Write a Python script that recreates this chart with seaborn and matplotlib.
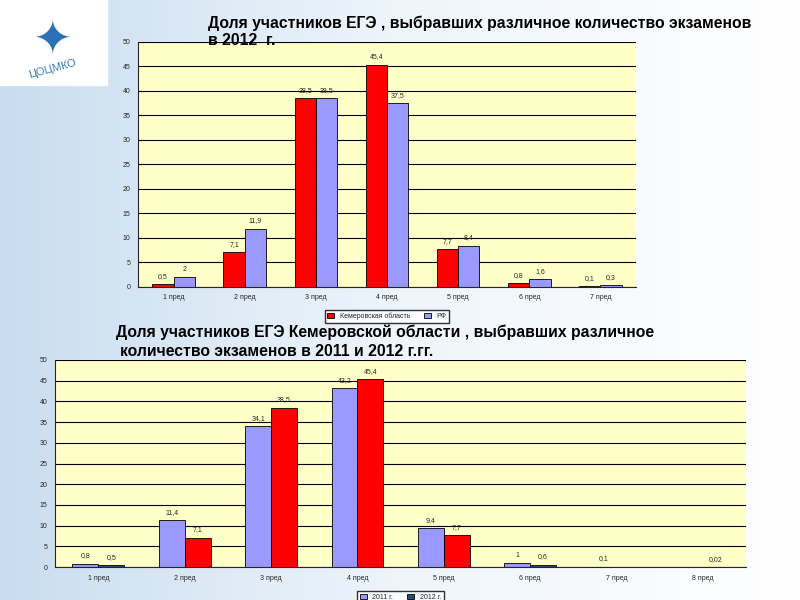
import numpy as np
import pandas as pd
import matplotlib
matplotlib.use("Agg")
import matplotlib.pyplot as plt
import seaborn as sns
from matplotlib.colors import LinearSegmentedColormap

sns.set_style("white")
plt.rcParams['font.family'] = ['Liberation Sans', 'DejaVu Sans']

cats1 = ["1 пред", "2 пред", "3 пред", "4 пред", "5 пред", "6 пред", "7 пред"]
kemerovo = [0.5, 7.1, 38.5, 45.4, 7.7, 0.8, 0.1]
rf = [2, 11.9, 38.5, 37.5, 8.4, 1.6, 0.3]
cats2 = ["1 пред", "2 пред", "3 пред", "4 пред", "5 пред", "6 пред", "7 пред", "8 пред"]
y2011 = [0.8, 11.4, 34.1, 43.2, 9.4, 1, 0.1, 0]
y2012 = [0.5, 7.1, 38.5, 45.4, 7.7, 0.6, 0.1, 0.02]
labels2011 = ["0,8", "11,4", "34,1", "43,2", "9,4", "1", "0,1", ""]
labels2012 = ["0,5", "7,1", "38,5", "45,4", "7,7", "0,6", "", "0,02"]

fig = plt.figure(figsize=(8, 6), dpi=100)
bg = fig.add_axes([0, 0, 1, 1], zorder=-10)
grad = np.linspace(0, 1, 256).reshape(1, -1)
cm = LinearSegmentedColormap.from_list("bg", ["#c9ddf0", "#eef5fb", "#ffffff"])
bg.imshow(grad, aspect="auto", cmap=cm, extent=[0, 1, 0, 1])
bg.axis("off")
fig.patches.append(plt.Rectangle((0, 600 - 85), 107, 85, transform=None, color="white", zorder=-5))
fig.text(0.065, 0.87, "ЦОЦМКО", color="#3a7fb8", fontsize=8, ha="center", rotation=15)
fig.text(0.065, 0.93, "✦", color="#2a72b5", fontsize=34, ha="center", va="center",
         family="DejaVu Sans")

def fmt(v):
    return (f"{v:g}").replace(".", ",")

def style(ax):
    ax.set_facecolor("#ffffc8")
    ax.set_ylim(0, 50)
    ax.set_yticks(range(0, 51, 5))
    ax.yaxis.grid(True, color="black", lw=0.8)
    ax.set_axisbelow(True)
    ax.tick_params(labelsize=5, length=2)
    ax.set_xlabel("")
    ax.set_ylabel("")
    for s in ["top", "right"]:
        ax.spines[s].set_visible(False)

ax1 = fig.add_axes([0.1725, 0.522, 0.6225, 0.408])
df1 = pd.DataFrame({"cat": cats1 * 2, "val": kemerovo + rf,
                    "ser": ["Кемеровская область"] * 7 + ["РФ"] * 7})
sns.barplot(data=df1, x="cat", y="val", hue="ser", ax=ax1,
            palette=["#ff0000", "#9999ff"], edgecolor="black", linewidth=0.6,
            width=0.6, saturation=1)
for c in ax1.containers:
    ax1.bar_label(c, labels=[fmt(b.get_height()) for b in c], fontsize=5, padding=3)
style(ax1)
ax1.legend(loc="upper center", bbox_to_anchor=(0.5, -0.08), ncol=2, fontsize=5,
           frameon=True, edgecolor="black", fancybox=False, handlelength=1)
fig.text(0.26, 0.962, "Доля участников ЕГЭ , выбравших различное количество экзаменов",
         fontsize=11.3, fontweight="bold", va="center", color="black")
fig.text(0.26, 0.932, "в 2012  г.", fontsize=11.3, fontweight="bold", va="center", color="black")

ax2 = fig.add_axes([0.069, 0.055, 0.8635, 0.345])
df2 = pd.DataFrame({"cat": cats2 * 2, "val": y2011 + y2012,
                    "ser": ["2011 г."] * 8 + ["2012 г."] * 8})
sns.barplot(data=df2, x="cat", y="val", hue="ser", ax=ax2,
            palette=["#9999ff", "#1f4e79"], edgecolor="black", linewidth=0.6,
            width=0.6, saturation=1)
for i, b in enumerate(ax2.containers[1]):
    if 1 <= i <= 4:
        b.set_facecolor("#ff0000")
ax2.bar_label(ax2.containers[0], labels=labels2011, fontsize=5, padding=3)
ax2.bar_label(ax2.containers[1], labels=labels2012, fontsize=5, padding=3)
style(ax2)
ax2.legend(loc="upper center", bbox_to_anchor=(0.5, -0.1), ncol=2, fontsize=5,
           frameon=True, edgecolor="black", fancybox=False, handlelength=1)
fig.text(0.145, 0.447, "Доля участников ЕГЭ Кемеровской области , выбравших различное",
         fontsize=11.3, fontweight="bold", va="center", color="black")
fig.text(0.15, 0.415, "количество экзаменов в 2011 и 2012 г.гг.",
         fontsize=11.3, fontweight="bold", va="center", color="black")

fig.savefig("out.png", dpi=100)
